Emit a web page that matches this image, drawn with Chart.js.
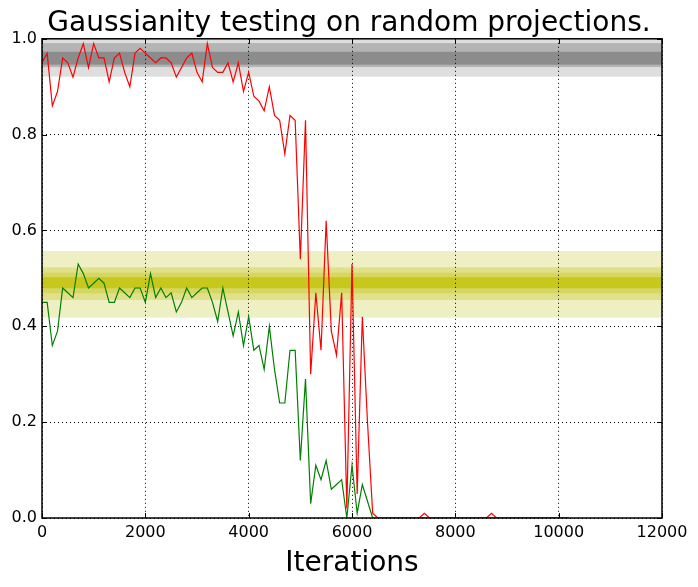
<!DOCTYPE html>
<html>
<head>
<meta charset="utf-8">
<title>Gaussianity testing on random projections.</title>
<script src="https://cdn.jsdelivr.net/npm/chart.js@4.4.1/dist/chart.umd.min.js"></script>
<style>
  html, body { margin: 0; padding: 0; background: #fff; }
  #wrap { width: 698px; height: 587px; }
</style>
</head>
<body>
<div id="wrap"><canvas id="chart"></canvas></div>
<script>
// iterations (x), one sample every 100 up to 10200
const iterations = [
  0, 100, 200, 300, 400, 500, 600, 700, 800, 900,
  1000, 1100, 1200, 1300, 1400, 1500, 1600, 1700, 1800, 1900,
  2000, 2100, 2200, 2300, 2400, 2500, 2600, 2700, 2800, 2900,
  3000, 3100, 3200, 3300, 3400, 3500, 3600, 3700, 3800, 3900,
  4000, 4100, 4200, 4300, 4400, 4500, 4600, 4700, 4800, 4900,
  5000, 5100, 5200, 5300, 5400, 5500, 5600, 5700, 5800, 5900,
  6000, 6100, 6200, 6300, 6400, 6500, 6600, 6700, 6800, 6900,
  7000, 7100, 7200, 7300, 7400, 7500, 7600, 7700, 7800, 7900,
  8000, 8100, 8200, 8300, 8400, 8500, 8600, 8700, 8800, 8900,
  9000, 9100, 9200, 9300, 9400, 9500, 9600, 9700, 9800, 9900,
  10000, 10100, 10200
];

// red series
const redValues = [
  0.95, 0.97, 0.86, 0.89, 0.96, 0.95, 0.92, 0.96, 0.99, 0.94,
  0.99, 0.96, 0.96, 0.91, 0.96, 0.97, 0.93, 0.90, 0.97, 0.98,
  0.97, 0.96, 0.95, 0.96, 0.96, 0.95, 0.92, 0.94, 0.96, 0.97,
  0.93, 0.91, 0.99, 0.94, 0.93, 0.93, 0.95, 0.91, 0.95, 0.89,
  0.93, 0.88, 0.87, 0.85, 0.90, 0.84, 0.83, 0.76, 0.84, 0.83,
  0.54, 0.83, 0.30, 0.47, 0.35, 0.62, 0.39, 0.34, 0.47, 0.02,
  0.53, 0.05, 0.42, 0.20, 0.01, 0, 0, 0, 0, 0,
  0, 0, 0, 0, 0.01, 0, 0, 0, 0, 0,
  0, 0, 0, 0, 0, 0, 0, 0.01, 0, 0,
  0, 0, 0, 0, 0, 0, 0, 0, 0, 0,
  0, 0, 0
];

// green series
const greenValues = [
  0.45, 0.45, 0.36, 0.39, 0.48, 0.47, 0.46, 0.53, 0.51, 0.48,
  0.49, 0.50, 0.49, 0.45, 0.45, 0.48, 0.47, 0.46, 0.48, 0.48,
  0.45, 0.51, 0.46, 0.48, 0.46, 0.47, 0.43, 0.45, 0.48, 0.46,
  0.47, 0.48, 0.48, 0.45, 0.41, 0.48, 0.43, 0.38, 0.43, 0.36,
  0.42, 0.35, 0.36, 0.31, 0.40, 0.31, 0.24, 0.24, 0.35, 0.35,
  0.12, 0.29, 0.03, 0.11, 0.08, 0.12, 0.06, 0.07, 0.08, 0.00,
  0.11, 0.01, 0.07, 0.035, 0, 0, 0, 0, 0, 0,
  0, 0, 0, 0, 0, 0, 0, 0, 0, 0,
  0, 0, 0, 0, 0, 0, 0, 0, 0, 0,
  0, 0, 0, 0, 0, 0, 0, 0, 0, 0,
  0, 0, 0
];

// shaded reference bands (outer to inner)
const grayBandLow = [0.921, 0.941, 0.946];
const grayBandHigh = [0.999, 0.991, 0.973];
const grayBandColors = ['#dedede', '#b4b4b4', '#8c8c8c'];

const yellowBandLow = [0.418, 0.455, 0.469, 0.4795];
const yellowBandHigh = [0.557, 0.523, 0.512, 0.5025];
const yellowBandColors = ['#efefc4', '#e0e08a', '#d6d662', '#c7c71c'];

const xTicks = [0, 2000, 4000, 6000, 8000, 10000, 12000];
const yTicks = [0, 0.2, 0.4, 0.6, 0.8, 1.0];

const toPoints = vals => vals.map((v, i) => ({ x: iterations[i], y: v }));

// bands go under the grid
const bandsPlugin = {
  id: 'bands',
  beforeDraw(chart) {
    const { ctx, chartArea: a, scales: { y } } = chart;
    const fill = (lows, highs, colors) => {
      lows.forEach((lo, i) => {
        const top = y.getPixelForValue(highs[i]);
        const bottom = y.getPixelForValue(lo);
        ctx.fillStyle = colors[i];
        ctx.fillRect(a.left, top, a.right - a.left, bottom - top);
      });
    };
    ctx.save();
    fill(grayBandLow, grayBandHigh, grayBandColors);
    fill(yellowBandLow, yellowBandHigh, yellowBandColors);
    ctx.restore();
  }
};

// black box round the axes, with small inward ticks like matplotlib
const framePlugin = {
  id: 'frame',
  afterDatasetsDraw(chart) {
    const { ctx, chartArea: a, scales: { x, y } } = chart;
    const len = 5;
    ctx.save();
    ctx.strokeStyle = '#000';
    ctx.lineWidth = 1;
    ctx.beginPath();
    xTicks.forEach(t => {
      const px = Math.round(x.getPixelForValue(t)) + 0.5;
      ctx.moveTo(px, a.bottom); ctx.lineTo(px, a.bottom - len);
      ctx.moveTo(px, a.top); ctx.lineTo(px, a.top + len);
    });
    yTicks.forEach(t => {
      const py = Math.round(y.getPixelForValue(t)) + 0.5;
      ctx.moveTo(a.left, py); ctx.lineTo(a.left + len, py);
      ctx.moveTo(a.right, py); ctx.lineTo(a.right - len, py);
    });
    ctx.stroke();
    ctx.lineWidth = 1.5;
    ctx.strokeRect(a.left, a.top, a.right - a.left, a.bottom - a.top);
    ctx.restore();
  }
};

Chart.defaults.font.family = '"DejaVu Sans", sans-serif';
Chart.defaults.color = '#000';

new Chart(document.getElementById('chart'), {
  type: 'line',
  data: {
    datasets: [
      {
        data: toPoints(redValues),
        borderColor: '#ff0000',
        borderWidth: 1.2,
        pointRadius: 0,
        tension: 0,
        order: 2
      },
      {
        data: toPoints(greenValues),
        borderColor: '#008000',
        borderWidth: 1.2,
        pointRadius: 0,
        tension: 0,
        order: 1
      }
    ]
  },
  options: {
    responsive: true,
    maintainAspectRatio: false,
    animation: false,
    layout: { padding: 0 },
    plugins: {
      legend: { display: false },
      tooltip: { enabled: false },
      title: {
        display: true,
        text: 'Gaussianity testing on random projections.',
        font: { size: 28, weight: 'normal', lineHeight: 1.1 },
        color: '#000',
        padding: { top: 8, bottom: 0 }
      }
    },
    scales: {
      x: {
        type: 'linear',
        min: 0,
        max: 12000,
        afterBuildTicks: s => { s.ticks = xTicks.map(v => ({ value: v })); },
        afterFit: s => { s.height = 69; },
        ticks: {
          font: { size: 16 },
          padding: 5,
          maxRotation: 0,
          autoSkip: false,
          callback: v => String(v)
        },
        grid: { color: '#000', lineWidth: 1, drawTicks: false },
        border: { display: false, dash: [1, 3] },
        title: {
          display: true,
          text: 'Iterations',
          font: { size: 28 },
          padding: { top: 0, bottom: 6 }
        }
      },
      y: {
        min: 0,
        max: 1,
        afterBuildTicks: s => { s.ticks = yTicks.map(v => ({ value: v })); },
        afterFit: s => { s.width = 42; },
        ticks: {
          font: { size: 16 },
          padding: 5,
          callback: v => v.toFixed(1)
        },
        grid: { color: '#000', lineWidth: 1, drawTicks: false },
        border: { display: false, dash: [1, 3] }
      },
      // empty right-hand axis, only reserves the margin
      yRight: {
        position: 'right',
        min: 0,
        max: 1,
        afterFit: s => { s.width = 36; },
        ticks: { display: false },
        grid: { display: false, drawTicks: false },
        border: { display: false }
      }
    }
  },
  plugins: [bandsPlugin, framePlugin]
});
</script>
</body>
</html>
